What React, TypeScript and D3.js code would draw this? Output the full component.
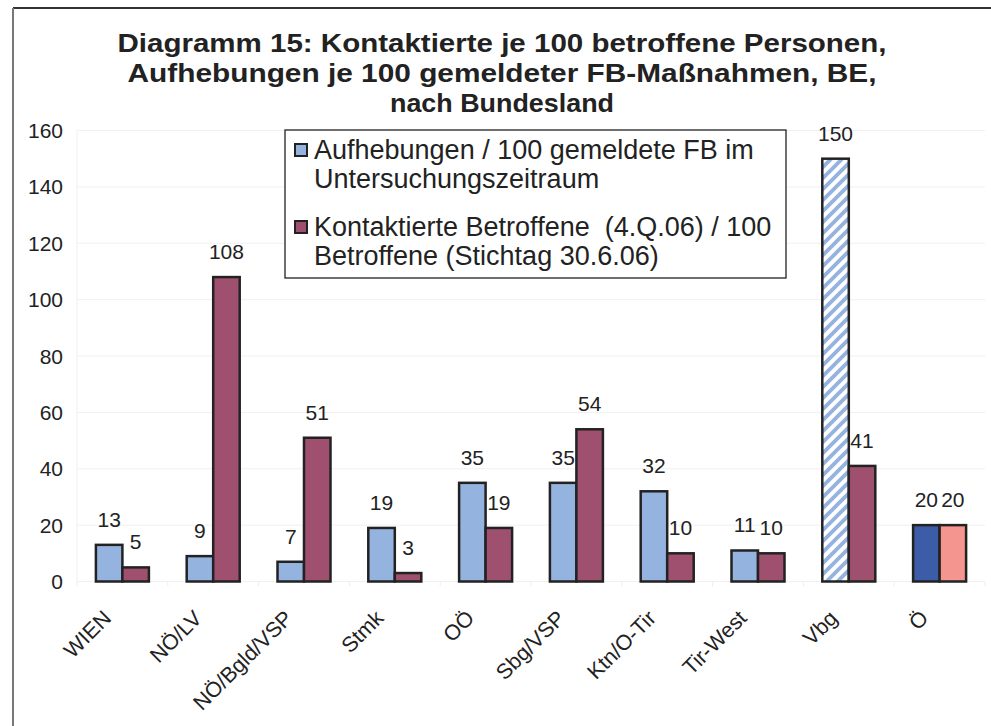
import React, { useEffect } from "react";
import * as d3 from "d3";

const categories = ["WIEN", "NÖ/LV", "NÖ/Bgld/VSP", "Stmk", "OÖ", "Sbg/VSP", "Ktn/O-Tir", "Tir-West", "Vbg", "Ö"];
const aufhebungen = [13, 9, 7, 19, 35, 35, 32, 11, 150, 20];
const kontaktierte = [5, 108, 51, 3, 19, 54, 10, 10, 41, 20];
const yTicks = [0, 20, 40, 60, 80, 100, 120, 140, 160];
const titleLines = [
  "Diagramm 15: Kontaktierte je 100 betroffene Personen,",
  "Aufhebungen je 100 gemeldeter FB-Maßnahmen, BE,",
  "nach Bundesland",
];
const titleWidths = [769, 749, 224];
const legendA = ["Aufhebungen / 100 gemeldete FB im", "Untersuchungszeitraum"];
const legendK = ["Kontaktierte Betroffene  (4.Q.06) / 100", "Betroffene (Stichtag 30.6.06)"];

const W = 991;
const H = 726;
const FONT = "'Liberation Sans', Arial, Helvetica, sans-serif";

export default function App() {
  useEffect(() => {
    document.body.style.margin = "0";
    document.body.style.overflow = "hidden";
  }, []);

  const x = d3.scaleBand<string>().domain(categories).range([77, 985]).padding(0);
  const bw = x.bandwidth();
  const pair = 53;
  const xs = d3.scaleBand<string>().domain(["a", "k"]).range([(bw - pair) / 2, (bw + pair) / 2]).padding(0);
  const y = d3.scaleLinear().domain([0, 160]).range([581.5, 130.5]);

  const colA = "#95b3df";
  const colK = "#a0506f";
  const colOA = "#3d5ca8";
  const colOK = "#f4958f";

  const fillA = (c: string) => (c === "Vbg" ? "url(#hatch)" : c === "Ö" ? colOA : colA);
  const fillK = (c: string) => (c === "Ö" ? colOK : colK);

  return (
    <div style={{ width: W, height: H, overflow: "hidden", position: "relative" }}>
      <svg width={W} height={H} style={{ display: "block", background: "#fff" }} fontFamily={FONT}>
        <defs>
          <pattern id="hatch" patternUnits="userSpaceOnUse" width={11} height={11}>
            <rect width={11} height={11} fill="#ffffff" />
            <path d="M0,11 L11,0 M-2,2 L2,-2 M9,13 L13,9" stroke="#95b3df" strokeWidth={3.8} />
          </pattern>
        </defs>
        <rect x={0} y={0} width={W} height={H} fill="#fff" />
        {/* frame */}
        <line x1={13} y1={8} x2={W} y2={8} stroke="#333" strokeWidth={2} />
        <line x1={13} y1={8} x2={13} y2={H} stroke="#777" strokeWidth={2} />

        {/* title */}
        {titleLines.map((t, i) => (
          <text
            key={i}
            x={502}
            y={52 + i * 30}
            textAnchor="middle"
            fontSize={26.5}
            fontWeight="bold"
            fill="#222"
            textLength={titleWidths[i]}
            lengthAdjust="spacingAndGlyphs"
          >
            {t}
          </text>
        ))}

        {/* grid */}
        {yTicks.map((t) => (
          <line key={t} x1={77} x2={985} y1={y(t)} y2={y(t)} stroke="#f0f0f0" strokeWidth={1} />
        ))}
        <line x1={77} x2={77} y1={y(160)} y2={y(0)} stroke="#f0f0f0" />
        {categories.map((c) => (
          <line key={c} x1={x(c)!} x2={x(c)!} y1={y(0)} y2={y(0) + 5} stroke="#eeeeee" />
        ))}
        <line x1={985} x2={985} y1={y(0)} y2={y(0) + 5} stroke="#eeeeee" />

        {/* y tick labels */}
        {yTicks.map((t) => (
          <text key={t} x={63} y={y(t) + 7.5} textAnchor="end" fontSize={21} fill="#222">
            {t}
          </text>
        ))}

        {/* bars */}
        {categories.map((c, i) => {
          const x0 = x(c)!;
          const ax = x0 + xs("a")!;
          const kx = x0 + xs("k")!;
          const w = xs.bandwidth();
          return (
            <g key={c}>
              <rect x={ax} y={y(aufhebungen[i])} width={w} height={y(0) - y(aufhebungen[i])} fill={fillA(c)} stroke="#222" strokeWidth={2.5} />
              <rect x={kx} y={y(kontaktierte[i])} width={w} height={y(0) - y(kontaktierte[i])} fill={fillK(c)} stroke="#222" strokeWidth={2.5} />
              <text x={ax + w / 2} y={y(aufhebungen[i]) - 18} textAnchor="middle" fontSize={21} fill="#222">
                {aufhebungen[i]}
              </text>
              <text x={kx + w / 2} y={y(kontaktierte[i]) - 18} textAnchor="middle" fontSize={21} fill="#222">
                {kontaktierte[i]}
              </text>
              <text
                transform={`translate(${x0 + bw / 2 - 10},${y(0) + 38}) rotate(-45)`}
                textAnchor="end"
                fontSize={21.5}
                fill="#222"
              >
                {c}
              </text>
            </g>
          );
        })}

        {/* legend */}
        <rect x={285} y={130} width={501} height={148} fill="#fff" stroke="#222" strokeWidth={1.3} />
        <rect x={295} y={144} width={12} height={12} fill={colA} stroke="#222" strokeWidth={2} />
        <rect x={295} y={221} width={12} height={12} fill={colK} stroke="#222" strokeWidth={2} />
        {legendA.map((t, i) => (
          <text key={t} x={314} y={159 + i * 29} fontSize={27} fill="#222" style={{ whiteSpace: "pre" }}>
            {t}
          </text>
        ))}
        {legendK.map((t, i) => (
          <text key={t} x={314} y={236 + i * 29} fontSize={27} fill="#222" style={{ whiteSpace: "pre" }}>
            {t}
          </text>
        ))}
      </svg>
    </div>
  );
}
